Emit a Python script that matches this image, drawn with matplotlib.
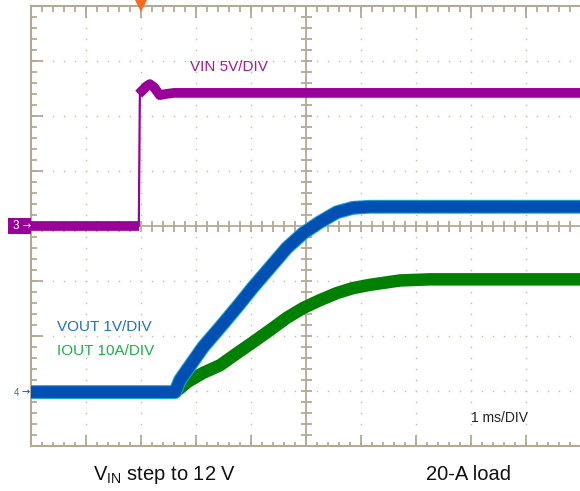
import numpy as np
import matplotlib
matplotlib.use("Agg")
import matplotlib.pyplot as plt
from matplotlib.patches import Rectangle

plt.rcParams['font.family'] = ['Liberation Sans', 'DejaVu Sans']
plt.rcParams['mathtext.fontset'] = 'custom'
plt.rcParams['mathtext.rm'] = 'Liberation Sans'
plt.rcParams['mathtext.it'] = 'Liberation Sans:italic'

# time in ms from left edge of the screen (1 ms/DIV)
vin_t = [0, 1.96, 1.98, 2.02, 2.10, 2.16, 2.24, 2.34, 2.45, 2.60, 2.80, 10]
vin_v = [0, 0, 12.4, 12.3, 12.7, 12.9, 12.6, 11.9, 12.0, 12.1, 12.1, 12.1]

vout_t = [0, 2.62, 2.71, 3.13, 3.44, 3.75, 4.04, 4.35, 4.65, 4.95, 5.25, 5.56, 5.85, 6.16, 10]
vout_v = [0, 0, 0.22, 0.82, 1.18, 1.55, 1.91, 2.27, 2.62, 2.89, 3.09, 3.27, 3.35, 3.37, 3.37]

iout_t = [0, 2.62, 2.71, 2.84, 3.13, 3.44, 3.75, 4.04, 4.35, 4.65, 4.95, 5.25, 5.56, 5.85, 6.16, 6.71, 7.25, 10]
iout_a = [0, 0, 0.7, 1.8, 3.5, 4.9, 7.1, 9.1, 11.3, 13.5, 15.3, 16.7, 18.0, 18.9, 19.5, 20.3, 20.5, 20.5]

vin_scale, vout_scale, iout_scale = 5.0, 1.0, 10.0   # per DIV
ch3_offset, ch4_offset = 0.0, -3.02                  # DIV

grid_c = '#b3aa92'
dot_c = '#c4bba3'
purple = '#990099'
blue = '#0050b4'
green = '#008000'

fig = plt.figure(figsize=(5.8, 4.91), dpi=100)
ax = fig.add_axes([31 / 580, 45 / 491, 550 / 580, 440 / 491])
ax.set_xlim(0, 10)
ax.set_ylim(-4, 4)
ax.set_axis_off()

# graticule dots
minor = np.arange(0.2, 8, 0.2) - 4
for gx in range(1, 10):
    if gx != 5:
        ax.plot([gx] * len(minor), minor, ls='none', marker='s', ms=1.0, mew=0, color=dot_c, zorder=1)
minor_x = np.arange(0.2, 10, 0.2)
for gy in range(-3, 4):
    if gy != 0:
        ax.plot(minor_x, [gy] * len(minor_x), ls='none', marker='s', ms=1.0, mew=0, color=dot_c, zorder=1)

# centre cross with ticks
ax.axvline(5, color=grid_c, lw=1.3, zorder=1)
ax.axhline(0, color=grid_c, lw=1.3, zorder=1)
ax.hlines(minor, 4.9, 5.1, color=grid_c, lw=1.3, zorder=1)
ax.vlines(minor_x, -0.1, 0.1, color=grid_c, lw=1.3, zorder=1)

# border and border ticks
ax.plot([0, 0], [-4, 4], color=grid_c, lw=1.5, clip_on=False, zorder=1)
ax.plot([0, 10], [4, 4], color=grid_c, lw=1.5, clip_on=False, zorder=1)
ax.plot([0, 10], [-4, -4], color=grid_c, lw=1.5, clip_on=False, zorder=1)
ax.hlines(minor, 0, 0.1, color=grid_c, lw=1.3, zorder=1)
ax.hlines(range(-3, 4), 0, 0.22, color=grid_c, lw=1.3, zorder=1)
ax.vlines(minor_x, 3.9, 4, color=grid_c, lw=1.3, zorder=1)
ax.vlines(range(1, 10), 3.78, 4, color=grid_c, lw=1.3, zorder=1)
ax.vlines(minor_x, -4, -3.93, color=grid_c, lw=1.3, zorder=1)
ax.vlines(range(1, 10), -4, -3.8, color=grid_c, lw=1.3, zorder=1)

# traces
vin_d = np.array(vin_v) / vin_scale + ch3_offset
vout_d = np.array(vout_v) / vout_scale + ch4_offset
iout_d = np.array(iout_a) / iout_scale + ch4_offset

ax.plot(vin_t[:2], vin_d[:2], color=purple, lw=7, solid_capstyle='butt', zorder=3)
ax.plot(vin_t[1:3], vin_d[1:3], color=purple, lw=1.6, zorder=3)
ax.plot(vin_t[3:], vin_d[3:], color=purple, lw=7, solid_joinstyle='round', zorder=3)

ax.plot(iout_t, iout_d, color=green, lw=9, solid_capstyle='butt', solid_joinstyle='round', zorder=3)
ax.plot(vout_t, vout_d, color='#19a8d0', lw=10, solid_capstyle='butt', solid_joinstyle='round', zorder=4)
ax.plot(vout_t, vout_d, color=blue, lw=8.5, solid_capstyle='butt', solid_joinstyle='round', zorder=4)

# trigger marker
ax.plot([2.0], [4.0], marker='v', ms=8, color='#f56a1e', mew=0, clip_on=False, zorder=6)

# labels on screen
ax.text((190 - 31) / 55, (226 - 67) / 55, 'VIN 5V/DIV', color='#a01aa0', fontsize=11,
        va='center', ha='left', zorder=6)
ax.text((57 - 31) / 55, (226 - 327) / 55, 'VOUT 1V/DIV', color='#1f6fc4', fontsize=11,
        va='center', ha='left', zorder=6)
ax.text((57 - 31) / 55, (226 - 351) / 55, 'IOUT 10A/DIV', color='#1db04a', fontsize=11,
        va='center', ha='left', zorder=6)
ax.text((471 - 31) / 55, (226 - 418) / 55, '1 ms/DIV', color='#222222', fontsize=10,
        va='center', ha='left', zorder=6)

# channel markers
fig.add_artist(Rectangle((8 / 580, (491 - 234) / 491), 23 / 580, 16 / 491,
                         transform=fig.transFigure, color=purple, lw=0))
fig.text(16 / 580, (491 - 226) / 491, '3', color='white', fontsize=8.5, ha='center', va='center')
fig.text(27 / 580, (491 - 226) / 491, '\u2192', color='white', fontsize=7, ha='center', va='center',
         family=['DejaVu Sans'])
fig.text(17 / 580, (491 - 393) / 491, '4', color='#2a8a6a', fontsize=7, ha='center', va='center')
fig.text(26 / 580, (491 - 392) / 491, '\u2192', color=blue, fontsize=7, ha='center', va='center',
         family=['DejaVu Sans'])

# captions below
fig.text(165 / 580, (491 - 480) / 491, r'V$_{\mathrm{IN}}$ step to 12 V', fontsize=14.5,
         ha='center', va='baseline', color='#111111')
fig.text(469 / 580, (491 - 480) / 491, '20-A load', fontsize=14.5,
         ha='center', va='baseline', color='#111111')

fig.savefig('out.png', dpi=100)
